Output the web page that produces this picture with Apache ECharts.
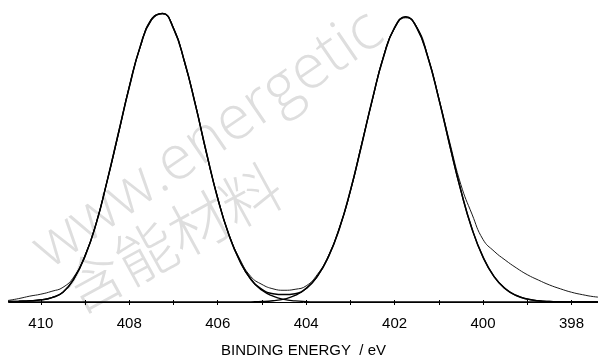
<!DOCTYPE html>
<html>
<head>
<meta charset="utf-8">
<script src="https://cdn.jsdelivr.net/npm/echarts@6/dist/echarts.min.js"></script>
<style>
  html, body { margin: 0; padding: 0; background: #fff; }
  #chart { width: 598px; height: 363px; }
</style>
</head>
<body>
<div id="chart"></div>
<script>
// binding energy grid (eV), high -> low
const energy = [
  410.75, 410.5, 410.25, 410.0, 409.75, 409.5, 409.25, 409.0, 408.75, 408.5,
  408.25, 408.0, 407.75, 407.5, 407.25, 407.0, 406.75, 406.5, 406.25, 406.0,
  405.75, 405.5, 405.25, 405.0, 404.75, 404.5, 404.25, 404.0, 403.75, 403.5,
  403.25, 403.0, 402.75, 402.5, 402.25, 402.0, 401.75, 401.5, 401.25, 401.0,
  400.75, 400.5, 400.25, 400.0, 399.75, 399.5, 399.25, 399.0, 398.75, 398.5,
  398.25, 398.0, 397.75, 397.5, 397.25
];

// measured spectrum (a.u.)
const measured = [
  1.5, 3.5, 6, 8, 11, 15, 26, 48, 81, 124,
  171, 221, 261, 290, 295, 281, 245, 202, 151, 107,
  70, 44, 26, 18, 13.5, 12, 13, 16.5, 28, 47,
  76, 113, 161, 207, 252, 280, 291, 282, 252, 209,
  163, 120, 90, 64, 52, 43, 35, 28, 22.5, 17.5,
  13.5, 10, 7.5, 5.5, 4.5
];

// fitted envelope
const envelope = [
  0.5, 0.8, 1.2, 2.2, 4.5, 10, 24, 47, 80, 124,
  172, 220, 262, 289, 295.5, 280, 246, 201, 152, 106,
  69, 42, 23.6, 13, 8.5, 7.6, 8.5, 14, 26.2, 46,
  75, 114, 160, 208, 251, 281, 292, 281, 251, 208,
  160, 114, 75, 46, 26, 13.7, 6.7, 3.0, 1.3, 0.5,
  0.2, 0.1, 0, 0, 0
];

// component peak ~407.3 eV
const peakHigh = [
  0.5, 0.8, 1.2, 2.2, 4.5, 10, 24, 47, 80, 124,
  172, 220, 262, 289, 295.5, 280, 246, 201, 152, 106,
  69, 42, 23, 12, 6, 2.6, 1.1, 0.4, 0.1, 0,
  0, 0, 0, 0, 0, 0, 0, 0, 0, 0,
  0, 0, 0, 0, 0, 0, 0, 0, 0, 0,
  0, 0, 0, 0, 0
];

// component peak ~401.75 eV
const peakLow = [
  0, 0, 0, 0, 0, 0, 0, 0, 0, 0,
  0, 0, 0, 0, 0, 0, 0, 0, 0, 0,
  0, 0, 0.2, 0.5, 1.3, 3.0, 6.7, 13.7, 26, 46,
  75, 114, 160, 208, 251, 281, 292, 281, 251, 208,
  160, 114, 75, 46, 26, 13.7, 6.7, 3.0, 1.3, 0.5,
  0.2, 0.1, 0, 0, 0
];

const tickValues = [398, 399, 400, 401, 402, 403, 404, 405, 406, 407, 408, 409, 410];
const labelValues = [398, 400, 402, 404, 406, 408, 410];

const pairs = (ys) => energy.map((e, i) => [e, ys[i]]);

const chart = echarts.init(document.getElementById("chart"), null, { renderer: "canvas" });

const lineSeries = (name, ys, width, color) => ({
  name,
  type: "line",
  data: pairs(ys),
  smooth: 0.5,
  showSymbol: false,
  symbol: "none",
  lineStyle: { color, width },
  z: 3,
});

chart.setOption({
  animation: false,
  backgroundColor: "#fff",
  grid: { left: 9, right: 0, top: 9, bottom: 54 },
  xAxis: [
    {
      type: "value",
      inverse: true,
      min: 397.4,
      max: 410.72,
      name: "BINDING ENERGY  / eV",
      nameLocation: "middle",
      nameGap: 41,
      nameTextStyle: { fontFamily: "Liberation Sans", fontSize: 15, color: "#000" },
      axisLine: { show: true, lineStyle: { color: "#000", width: 1 } },
      axisTick: { show: true, length: 3, customValues: tickValues, lineStyle: { color: "#000" } },
      axisLabel: {
        customValues: labelValues,
        margin: 14,
        fontFamily: "Liberation Sans",
        fontSize: 15,
        color: "#000",
      },
      splitLine: { show: false },
    },
    {
      type: "value",
      inverse: true,
      position: "bottom",
      min: 397.4,
      max: 410.72,
      axisLine: { show: false },
      axisTick: { show: true, inside: true, length: 2, customValues: tickValues, lineStyle: { color: "#000" } },
      axisLabel: { show: false },
      splitLine: { show: false },
    },
  ],
  yAxis: {
    type: "value",
    min: 0,
    max: 300,
    show: false,
  },
  graphic: [
    {
      type: "text",
      x: 208,
      y: 140,
      rotation: 0.6,
      z: 0,
      silent: true,
      style: {
        text: "www.energetic",
        font: '300 62px "Open Sans"',
        fill: "#dedede",
        align: "center",
        verticalAlign: "middle",
      },
    },
    {
      type: "text",
      x: 172,
      y: 238,
      rotation: 0.5,
      z: 0,
      silent: true,
      style: {
        text: "含能材料",
        font: '300 60px "Noto Sans CJK SC"',
        fill: "#dedede",
        align: "center",
        verticalAlign: "middle",
      },
    },
  ],
  series: [
    lineSeries("measured", measured, 1, "#1a1a1a"),
    lineSeries("envelope", envelope, 1.5, "#000"),
    lineSeries("peak 407.3", peakHigh, 1.3, "#000"),
    lineSeries("peak 401.8", peakLow, 1.3, "#000"),
  ],
});
</script>
</body>
</html>
